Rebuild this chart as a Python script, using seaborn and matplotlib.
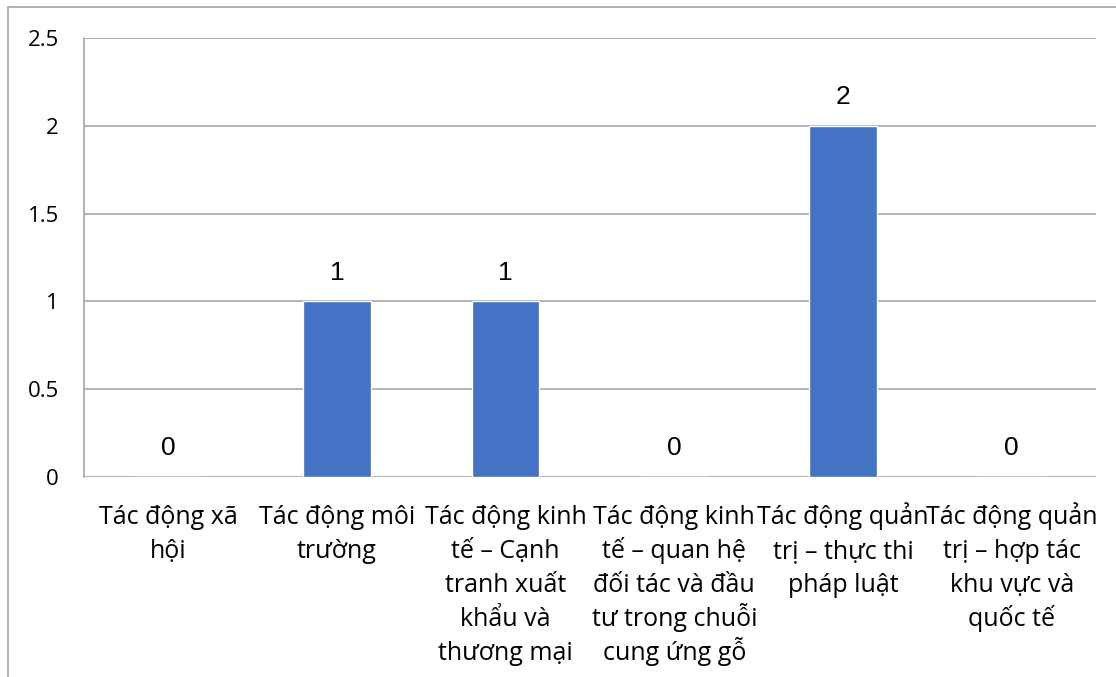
import matplotlib
matplotlib.use("Agg")
import matplotlib.pyplot as plt
import seaborn as sns
import pandas as pd
from matplotlib.lines import Line2D
from matplotlib.transforms import offset_copy

categories = [
    "Tác động xã\nhội",
    "Tác động môi\ntrường",
    "Tác động kinh\ntế – Cạnh\ntranh xuất\nkhẩu và\nthương mại",
    "Tác động kinh\ntế – quan hệ\nđối tác và đầu\ntư trong chuỗi\ncung ứng gỗ",
    "Tác động quản\ntrị – thực thi\npháp luật",
    "Tác động quản\ntrị – hợp tác\nkhu vực và\nquốc tế",
]
values = [0, 1, 1, 0, 2, 0]
y_ticks = [0, 0.5, 1, 1.5, 2, 2.5]
y_tick_labels = ["0", "0.5", "1", "1.5", "2", "2.5"]

sns.set_theme(style="white")
plt.rcParams["font.family"] = ["Open Sans", "DejaVu Sans"]

df = pd.DataFrame({"category": categories, "value": values})

W, H = 1116, 677
DPI = 100
fig = plt.figure(figsize=(W / DPI, H / DPI), dpi=DPI)
ax = fig.add_axes([84 / W, 1 - 477 / H, (1096 - 84) / W, (477 - 38) / H])

sns.barplot(data=df, x="category", y="value", color="#4472C4", width=0.4,
            saturation=1, ax=ax)

ax.set_ylim(0, 2.5)
ax.set_yticks(y_ticks)
ax.set_yticklabels(y_tick_labels)
ax.set_xlabel("")
ax.set_ylabel("")

grid_color = "#A6A6A6"
for y in y_ticks:
    ax.axhline(y, color=grid_color, linewidth=1.2, zorder=0)

for side in ["top", "right", "bottom"]:
    ax.spines[side].set_visible(False)
ax.spines["left"].set_color(grid_color)
ax.spines["left"].set_linewidth(1.2)

ax.tick_params(axis="y", length=0, pad=18, labelsize=16, labelcolor="#000000")
ax.tick_params(axis="x", length=0)

# category names: each wrapped line sits on its own baseline below the axis
ax.set_xticklabels([""] * len(categories))
xform = ax.get_xaxis_transform()
first_baseline_px = 47   # below the zero line
line_step_px = 34
for i, name in enumerate(categories):
    for k, line in enumerate(name.split("\n")):
        dy = -(first_baseline_px + k * line_step_px) * 72 / DPI
        tr = offset_copy(xform, fig=fig, x=0, y=dy, units="points")
        ax.text(i, 0, line, transform=tr, ha="center", va="baseline",
                fontsize=18, color="#000000", clip_on=False)

for container in ax.containers:
    ax.bar_label(container, labels=[f"{v:g}" for v in values], padding=12,
                 fontsize=19, color="#000000",
                 family=["Liberation Sans", "DejaVu Sans"])

# outer chart frame
fig.add_artist(Line2D([8 / W, 1], [1 - 7 / H, 1 - 7 / H],
                      transform=fig.transFigure, color="#A6A6A6", linewidth=1.2))
fig.add_artist(Line2D([8 / W, 8 / W], [0, 1 - 7 / H],
                      transform=fig.transFigure, color="#A6A6A6", linewidth=1.2))

fig.savefig("out.png", dpi=DPI)
